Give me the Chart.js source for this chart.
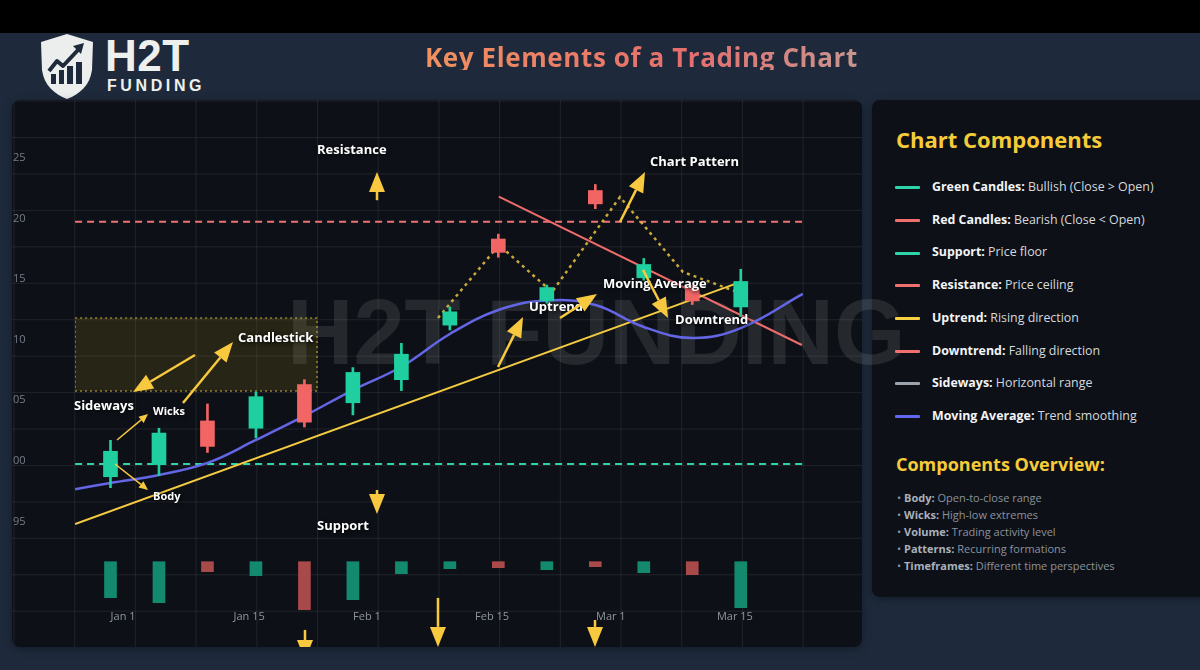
<!DOCTYPE html>
<html>
<head>
<meta charset="utf-8">
<script src="https://cdn.jsdelivr.net/npm/chart.js@4.4.1/dist/chart.umd.min.js"></script>
<style>
html,body{margin:0;padding:0}
body{width:1200px;height:670px;overflow:hidden;position:relative;background:#1e2a3b;font-family:'Open Sans','DejaVu Sans',sans-serif}
#band{position:absolute;left:0;top:0;width:1200px;height:33px;background:#000}
#logo{position:absolute;left:38px;top:33px}
#brand{position:absolute;left:105px;top:34px;font-family:'Liberation Sans',Arial,sans-serif;font-weight:700;font-size:44px;line-height:44px;color:#eef0ee;letter-spacing:0.5px}
#brand2{position:absolute;left:107px;top:78px;font-family:'Liberation Sans',Arial,sans-serif;font-weight:700;font-size:16px;line-height:16px;color:#eef0ee;letter-spacing:3.6px}
#title{position:absolute;left:425px;top:43.6px;font-weight:700;font-size:26px;line-height:26px;letter-spacing:0.6px;white-space:nowrap;background:linear-gradient(90deg,#f29160,#e56e6e 60%,#c9968f);-webkit-background-clip:text;background-clip:text;color:transparent}
#panel{position:absolute;left:12px;top:100px;width:850px;height:547px;border-radius:8px;background-color:#0d1117;background-image:linear-gradient(to right,rgba(255,255,255,0.075) 1px,transparent 1px),linear-gradient(to bottom,rgba(255,255,255,0.075) 1px,transparent 1px);background-size:60.71px 36.45px;background-position:1.5px 0.6px;box-shadow:0 2px 8px rgba(0,0,0,0.35);z-index:1}
#side{position:absolute;left:872px;top:100px;width:345px;height:497px;border-radius:8px;background:#0d1117;box-shadow:0 2px 8px rgba(0,0,0,0.35);z-index:1}
#wm{position:absolute;left:287px;top:286px;font-family:'Liberation Sans',Arial,sans-serif;font-weight:700;font-size:92px;line-height:92px;color:rgba(255,255,255,0.1);white-space:nowrap;z-index:2;pointer-events:none}
#chartbox{position:absolute;left:12px;top:100px;width:850px;height:547px;z-index:3;border-radius:8px;overflow:hidden}
#legend{position:absolute;left:872px;top:100px;width:328px;height:497px;z-index:3}
#legend .h{position:absolute;left:24px;top:28px;font-weight:700;font-size:22px;line-height:22px;color:#f6cb3a;white-space:nowrap}
#legend .row{position:absolute;left:23px;height:20px;line-height:20px;font-size:12.4px;color:#d5d9de;white-space:nowrap}
#legend .row i{display:inline-block;width:25px;height:3px;vertical-align:middle;margin-right:12px;border-radius:1px}
#legend .row b{color:#f3f4f6}
#legend .h2{position:absolute;left:24px;top:355px;font-weight:700;font-size:18px;line-height:18px;color:#f6cb3a;white-space:nowrap}
#legend .ov{position:absolute;left:25px;top:389px;font-size:11px;line-height:17px;color:#8b929d;white-space:nowrap}
#legend .ov b{color:#a9b0bb}
</style>
</head>
<body>
<div id="band"></div>
<svg id="logo" width="58" height="67" viewBox="0 0 58 67">
  <path d="M29 1 L55 9 L54 37 C52 52 42 61 29 66 C16 61 6 52 4 37 L3 9 Z" fill="#eceeed"/>
  <g fill="#1e2a3b">
    <rect x="13" y="41" width="5" height="10"/>
    <rect x="21" y="37" width="5" height="14"/>
    <rect x="29" y="33" width="6" height="18"/>
    <rect x="38" y="29" width="6" height="22"/>
  </g>
  <polyline points="11,38 19,28 25,33 40,17" fill="none" stroke="#1e2a3b" stroke-width="4" stroke-linejoin="round"/>
  <path d="M35 13 L46 10 L43 21 Z" fill="#1e2a3b"/>
</svg>
<div id="brand">H2T</div>
<div id="brand2">FUNDING</div>
<div id="title">Key Elements of a Trading Chart</div>
<div id="panel"></div>
<div id="side"></div>
<div id="wm">H2T FUNDING</div>
<div id="chartbox"><canvas id="c" width="850" height="547"></canvas></div>
<div id="legend">
  <div class="h">Chart Components</div>
  <div id="rows"></div>
  <div class="h2">Components Overview:</div>
  <div class="ov" id="ov"></div>
</div>
<script>
// ---------- data ----------
const xTickLabels = ['Jan 1', 'Jan 15', 'Feb 1', 'Feb 15', 'Mar 1', 'Mar 15'];
const xTickPos    = [0.26, 2.86, 5.29, 7.87, 10.32, 12.88];
const yTickValues = [95, 100, 105, 110, 115, 120, 125];

const opens   = [98.7, 99.7, 103.3, 102.7, 106.3, 104.8, 106.7, 111.2, 118.3, 113.2, 122.3, 115.1, 114.2, 112.7];
const closes  = [100.8, 102.3, 101.2, 105.3, 103.2, 107.3, 108.8, 112.3, 117.2, 114.3, 121.2, 116.2, 113.2, 114.8];
const highs   = [101.7, 102.7, 104.7, 105.7, 106.7, 107.7, 109.7, 112.7, 118.7, 114.5, 122.8, 116.7, 114.5, 115.8];
const lows    = [97.8, 98.8, 100.7, 101.9, 102.8, 103.8, 105.8, 110.8, 116.8, 113.0, 120.8, 114.9, 112.9, 111.9];
const volumes = [3.6, 4.1, 1.0, 1.4, 4.8, 3.8, 1.2, 0.7, 0.6, 0.8, 0.5, 1.1, 1.3, 4.6];

const maX = [-0.73, 0, 1, 2, 3, 4, 5, 6, 7, 8, 9, 10, 11, 12, 13, 14.28];
const maY = [97.67, 98.19, 98.85, 99.84, 101.73, 103.71, 105.85, 107.77, 110.47, 112.45, 113.23, 112.86, 111.05, 110.14, 110.96, 113.77];

const upX = [-0.73, 13.0];      const upY = [94.8, 114.77];
const downX = [8.01, 14.26];    const downY = [121.79, 109.56];
const lineSpanX = [-0.73, 14.28];
const resistanceLevel = 119.73;
const supportLevel = 99.75;

const patternX = [6.755, 8.014, 9.107, 10.509, 11.808, 12.985];
const patternY = [111.79, 117.81, 113.93, 121.76, 115.58, 113.85];

const boxX = [-0.73, 4.26];
const boxY = [105.77, 111.79];

const noteTexts = ['Resistance', 'Chart Pattern', 'Candlestick', 'Sideways', 'Wicks', 'Body', 'Uptrend', 'Moving Average', 'Downtrend', 'Support'];
const noteX     = [4.26, 11.128, 2.63, -0.753, 0.877, 0.877, 8.633, 10.159, 11.644, 4.26];
const noteY     = [125.64, 124.65, 110.14, 104.53, 104.04, 97.03, 112.70, 114.59, 111.62, 94.64];
const noteSize  = [13, 13, 13, 13, 11, 11, 13, 13, 13, 13];

const arrowFromX = [5.497, 5.497, 1.743, 1.495, 0.134, 0.093, 7.993, 9.272, 10.509, 10.984, 6.755, 4.012, 9.994];
const arrowFromY = [121.5, 97.61, 108.74, 104.78, 101.73, 99.75, 107.75, 111.79, 119.70, 115.75, 88.71, 86.07, 86.89];
const arrowToX   = [5.497, 5.497, 0.464, 2.527, 0.774, 0.774, 8.509, 10.035, 11.025, 11.500, 6.755, 4.012, 9.994];
const arrowToY   = [123.83, 95.63, 105.69, 109.81, 103.87, 97.61, 111.87, 113.77, 123.83, 111.79, 84.67, 83.59, 84.67];
const arrowThin  = [0, 0, 0, 0, 1, 1, 0, 0, 0, 0, 0, 0, 0];

const legendNames = ['Green Candles:', 'Red Candles:', 'Support:', 'Resistance:', 'Uptrend:', 'Downtrend:', 'Sideways:', 'Moving Average:'];
const legendDescs = ['Bullish (Close > Open)', 'Bearish (Close < Open)', 'Price floor', 'Price ceiling', 'Rising direction', 'Falling direction', 'Horizontal range', 'Trend smoothing'];
const legendColors = ['#2dd4aa', '#f07070', '#2dd4aa', '#f07070', '#f5d142', '#f07070', '#9ca3af', '#6366f1'];
const overviewNames = ['Body:', 'Wicks:', 'Volume:', 'Patterns:', 'Timeframes:'];
const overviewDescs = ['Open-to-close range', 'High-low extremes', 'Trading activity level', 'Recurring formations', 'Different time perspectives'];

// ---------- legend panel ----------
const rowsEl = document.getElementById('rows');
legendNames.forEach((n, i) => {
  const d = document.createElement('div');
  d.className = 'row';
  d.style.top = (77 + 32.7 * i) + 'px';
  const sw = document.createElement('i'); sw.style.background = legendColors[i];
  const b = document.createElement('b'); b.textContent = n;
  d.appendChild(sw); d.appendChild(b); d.appendChild(document.createTextNode(' ' + legendDescs[i]));
  rowsEl.appendChild(d);
});
const ovEl = document.getElementById('ov');
overviewNames.forEach((n, i) => {
  const d = document.createElement('div');
  d.appendChild(document.createTextNode('\u2022 '));
  const b = document.createElement('b'); b.textContent = n;
  d.appendChild(b); d.appendChild(document.createTextNode(' ' + overviewDescs[i]));
  ovEl.appendChild(d);
});

// ---------- chart ----------
const GREEN = '#1fcf9f', RED = '#f26565';
const VGREEN = '#138a6d', VRED = '#a94a4a';
const YEL = '#f8c93f';
const isUp = opens.map((o, i) => closes[i] >= o);

const annotPlugin = {
  id: 'annot',
  afterDatasetsDraw(chart) {
    const ctx = chart.ctx, xs = chart.scales.x, ys = chart.scales.y;
    ctx.save();
    noteTexts.forEach((t, i) => {
      ctx.font = 'bold ' + noteSize[i] + 'px "Open Sans", sans-serif';
      ctx.textAlign = 'left'; ctx.textBaseline = 'middle';
      ctx.shadowColor = 'rgba(0,0,0,0.95)'; ctx.shadowBlur = 4; ctx.shadowOffsetX = 1; ctx.shadowOffsetY = 1;
      ctx.fillStyle = '#ffffff';
      ctx.fillText(t, xs.getPixelForValue(noteX[i]), ys.getPixelForValue(noteY[i]));
    });
    ctx.shadowColor = 'transparent'; ctx.shadowBlur = 0; ctx.shadowOffsetX = 0; ctx.shadowOffsetY = 0;
    arrowFromX.forEach((fx, i) => {
      const x1 = xs.getPixelForValue(fx), y1 = ys.getPixelForValue(arrowFromY[i]);
      const x2 = xs.getPixelForValue(arrowToX[i]), y2 = ys.getPixelForValue(arrowToY[i]);
      const thin = arrowThin[i] === 1;
      const lw = thin ? 1.5 : 2.5, hl = thin ? 9 : 20, hw = thin ? 8 : 16;
      const a = Math.atan2(y2 - y1, x2 - x1);
      const bx = x2 - hl * Math.cos(a), by = y2 - hl * Math.sin(a);
      ctx.strokeStyle = YEL; ctx.fillStyle = YEL; ctx.lineWidth = lw;
      ctx.beginPath(); ctx.moveTo(x1, y1); ctx.lineTo(bx, by); ctx.stroke();
      ctx.beginPath(); ctx.moveTo(x2, y2);
      ctx.lineTo(bx + hw / 2 * Math.sin(a), by - hw / 2 * Math.cos(a));
      ctx.lineTo(bx - hw / 2 * Math.sin(a), by + hw / 2 * Math.cos(a));
      ctx.closePath(); ctx.fill();
    });
    ctx.restore();
  }
};

const pts = (xa, ya) => xa.map((x, i) => ({x: x, y: ya[i]}));
const lineBase = {type: 'line', pointRadius: 0, pointHoverRadius: 0, fill: false, xAxisID: 'x', yAxisID: 'y'};

new Chart(document.getElementById('c'), {
  type: 'bar',
  data: {
    datasets: [
      {type: 'bar', label: 'Body', order: 0, grouped: false, barThickness: 14, maxBarThickness: 14,
        data: opens.map((o, i) => ({x: i, y: [o, closes[i]]})),
        backgroundColor: isUp.map(u => u ? GREEN : RED), borderWidth: 0, xAxisID: 'x', yAxisID: 'y'},
      {type: 'bar', label: 'Wick', order: 1, grouped: false, barThickness: 2, maxBarThickness: 2,
        data: lows.map((l, i) => ({x: i, y: [l, highs[i]]})),
        backgroundColor: isUp.map(u => u ? GREEN : RED), borderWidth: 0, xAxisID: 'x', yAxisID: 'y'},
      {type: 'bar', label: 'Volume', order: 8, grouped: false, barThickness: 12, maxBarThickness: 12, clip: false,
        data: volumes.map((v, i) => ({x: i, y: v})),
        backgroundColor: isUp.map(u => u ? VGREEN : VRED), borderWidth: 0, xAxisID: 'x', yAxisID: 'yv'},
      Object.assign({}, lineBase, {label: 'Pattern', order: 3, data: pts(patternX, patternY),
        borderColor: 'rgba(236,196,64,0.85)', borderWidth: 2.5, borderDash: [3, 4], tension: 0}),
      Object.assign({}, lineBase, {label: 'Moving Average', order: 4, data: pts(maX, maY),
        borderColor: '#6466e6', borderWidth: 2.5, tension: 0.4}),
      Object.assign({}, lineBase, {label: 'Uptrend', order: 4, data: pts(upX, upY),
        borderColor: '#f5cb42', borderWidth: 2, tension: 0}),
      Object.assign({}, lineBase, {label: 'Downtrend', order: 4, data: pts(downX, downY),
        borderColor: '#ef6b6b', borderWidth: 2, tension: 0}),
      Object.assign({}, lineBase, {label: 'Resistance', order: 5, data: pts(lineSpanX, [resistanceLevel, resistanceLevel]),
        borderColor: '#ef7272', borderWidth: 2, borderDash: [7, 5], tension: 0}),
      Object.assign({}, lineBase, {label: 'Support', order: 5, data: pts(lineSpanX, [supportLevel, supportLevel]),
        borderColor: '#2dd4aa', borderWidth: 2, borderDash: [7, 5], tension: 0}),
      Object.assign({}, lineBase, {label: 'Sideways', order: 9,
        data: pts([boxX[0], boxX[1], boxX[1], boxX[0], boxX[0]], [boxY[1], boxY[1], boxY[0], boxY[0], boxY[1]]),
        borderColor: 'rgba(236,196,64,0.6)', borderWidth: 1.5, borderDash: [2, 3], tension: 0,
        fill: 'shape', backgroundColor: 'rgba(250,204,21,0.11)'})
    ]
  },
  options: {
    responsive: false, animation: false,
    layout: {padding: {left: 1, top: 9, right: 59, bottom: 24}},
    plugins: {legend: {display: false}, tooltip: {enabled: false}},
    scales: {
      x: {type: 'linear', min: -0.732, max: 14.284, offset: false,
        grid: {display: false, drawTicks: false, offset: false}, border: {display: false},
        afterBuildTicks: s => { s.ticks = xTickPos.map(v => ({value: v})); },
        afterFit: s => { s.height = 16; },
        ticks: {autoSkip: false, maxRotation: 0, minRotation: 0, padding: 3, color: '#8f96a0',
          font: {size: 11, family: '"Open Sans", sans-serif'},
          callback: (v, i) => xTickLabels[i]}},
      y: {type: 'linear', position: 'left', min: 87.96, max: 129.02,
        grid: {display: false, drawTicks: false}, border: {display: false},
        afterBuildTicks: s => { s.ticks = yTickValues.map(v => ({value: v})); },
        afterFit: s => { s.width = 62; },
        ticks: {crossAlign: 'far', padding: 0, color: '#767d88',
          font: {size: 11, family: '"Open Sans", sans-serif'},
          callback: v => String(v).slice(-2)}},
      yv: {type: 'linear', display: false, reverse: true, min: -45.27, max: 4.53}
    }
  },
  plugins: [annotPlugin]
});
</script>
</body>
</html>
